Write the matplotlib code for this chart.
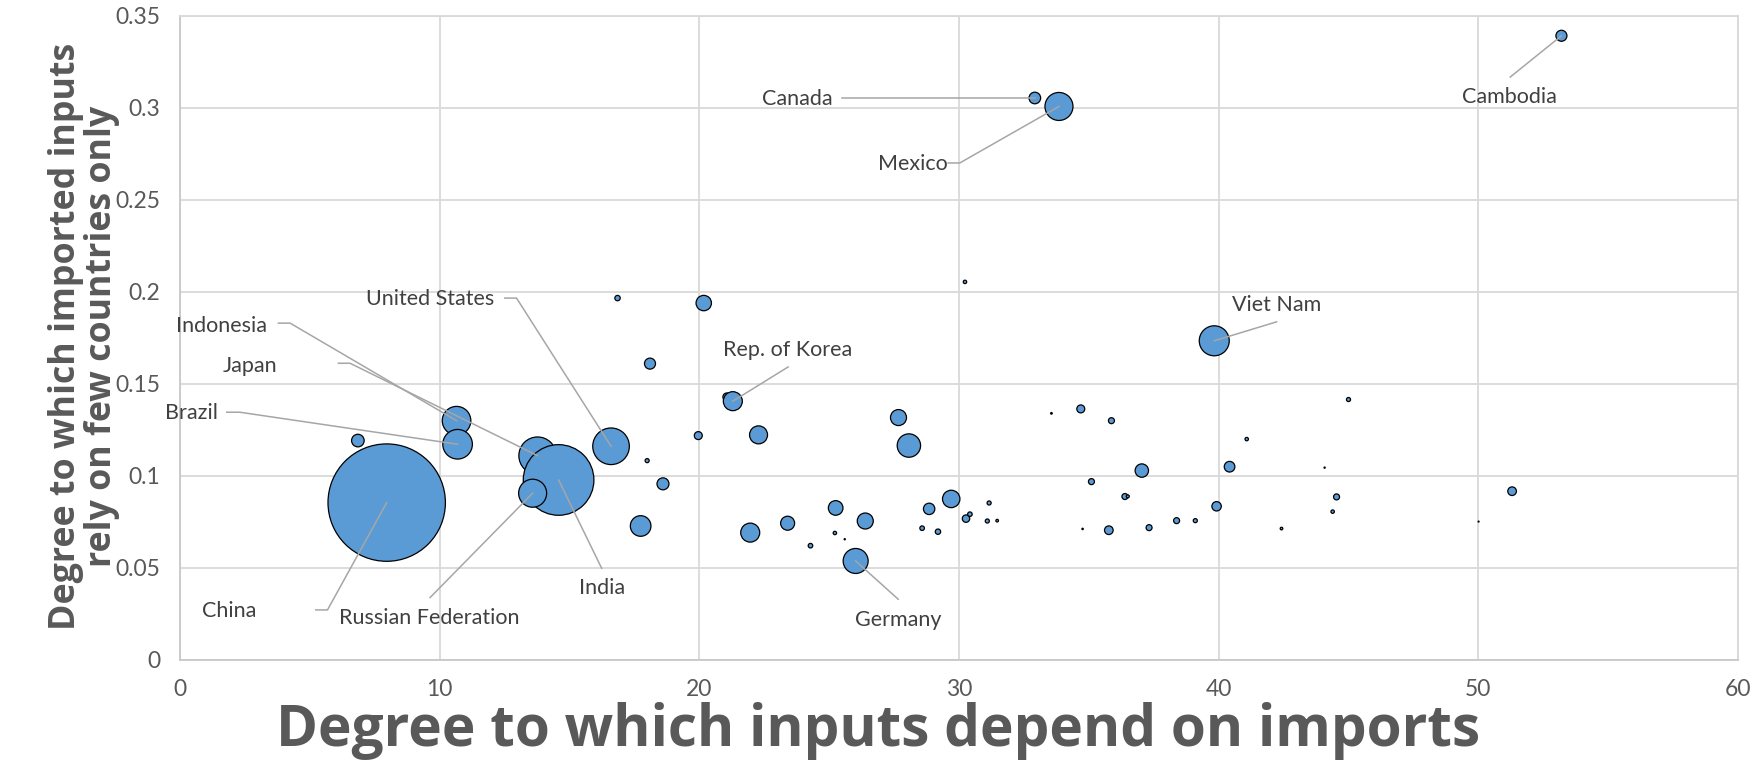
import matplotlib
matplotlib.use("Agg")
import matplotlib.pyplot as plt
from matplotlib.ticker import MultipleLocator, FuncFormatter

# degree to which inputs depend on imports (x), concentration of import sources (y),
# bubble value (area, China = 100), label name ('' = unlabelled)
import_dep = [6.85, 7.96, 10.65, 10.69, 13.77, 14.58, 13.58, 16.6, 16.85, 18.1,
              17.99, 17.74, 18.6, 20.17, 30.23, 21.06, 21.29, 19.96, 22.28, 27.67,
              28.07, 33.56, 34.69, 35.1, 21.96, 23.4, 25.25, 25.22, 25.6, 24.28,
              26.39, 26.02, 28.85, 29.7, 28.58, 29.19, 30.27, 30.42, 31.16, 31.09,
              31.47, 35.87, 37.04, 36.39, 36.5, 34.76, 35.77, 37.32, 38.38, 39.1,
              39.83, 41.08, 40.42, 39.92, 42.42, 44.08, 45.0, 44.54, 44.39, 50.01,
              51.3, 32.92, 33.85, 53.2]
concentration = [0.1192, 0.0855, 0.130, 0.1172, 0.111, 0.0978, 0.0906, 0.1161, 0.1966, 0.161,
                 0.1083, 0.0728, 0.0957, 0.1939, 0.2054, 0.1429, 0.1406, 0.1219, 0.1223, 0.1317,
                 0.1165, 0.134, 0.1364, 0.0969, 0.0692, 0.0743, 0.0826, 0.069, 0.0656, 0.0621,
                 0.0755, 0.0538, 0.0821, 0.0875, 0.0716, 0.0697, 0.0768, 0.0792, 0.0853, 0.0755,
                 0.0757, 0.130, 0.1029, 0.0888, 0.0889, 0.0712, 0.0705, 0.0719, 0.0757, 0.0757,
                 0.1734, 0.120, 0.105, 0.0835, 0.0714, 0.1045, 0.1415, 0.0886, 0.0806, 0.0752,
                 0.0917, 0.3053, 0.3007, 0.3391]
bubble = [1.15, 100, 5.93, 6.36, 10.15, 36.2, 5.69, 9.72, 0.21, 0.88,
          0.12, 3.08, 1.04, 1.72, 0.084, 0.46, 2.62, 0.46, 2.35, 1.86,
          3.97, 0.019, 0.46, 0.26, 2.62, 1.42, 1.55, 0.084, 0.01, 0.15,
          1.86, 4.53, 0.94, 2.2, 0.15, 0.21, 0.40, 0.15, 0.12, 0.12,
          0.05, 0.26, 1.30, 0.26, 0.065, 0.014, 0.54, 0.26, 0.26, 0.12,
          6.53, 0.084, 0.82, 0.64, 0.05, 0.01, 0.12, 0.26, 0.084, 0.007,
          0.54, 0.98, 5.69, 0.88]
names = [''] * len(import_dep)
names[1] = 'China'
names[2] = 'Indonesia'
names[3] = 'Brazil'
names[4] = 'Japan'
names[5] = 'India'
names[6] = 'Russian Federation'
names[7] = 'United States'
names[16] = 'Rep. of Korea'
names[31] = 'Germany'
names[50] = 'Viet Nam'
names[61] = 'Canada'
names[62] = 'Mexico'
names[63] = 'Cambodia'

# label placement: text centre, start of leader line, length of the short horizontal elbow
label_pos = {
    'Canada': ((23.76, 0.3046), (25.49, 0.3053), 0),
    'Mexico': ((28.22, 0.2694), (29.58, 0.270), 0.45),
    'Cambodia': ((51.2, 0.3058), (51.23, 0.3167), 0),
    'Viet Nam': ((42.23, 0.1929), (42.23, 0.1837), 0),
    'Rep. of Korea': ((23.4, 0.1685), (23.42, 0.1592), 0),
    'United States': ((9.65, 0.196), (12.51, 0.1966), 0.45),
    'Indonesia': ((1.6, 0.1817), (3.79, 0.183), 0.45),
    'Japan': ((2.70, 0.1598), (6.10, 0.1612), 0.45),
    'Brazil': ((0.45, 0.134), (1.80, 0.1346), 0.5),
    'China': ((1.91, 0.0264), (5.23, 0.0272), 0.45),
    'Russian Federation': ((9.61, 0.0227), (9.63, 0.0339), 0),
    'India': ((16.24, 0.0393), (16.24, 0.0498), 0),
    'Germany': ((27.66, 0.0217), (27.66, 0.033), 0),
}

plt.rcParams['font.family'] = ['Lato', 'DejaVu Sans']

fig = plt.figure(figsize=(17.56, 7.61), dpi=100)
ax = fig.add_axes([180 / 1756, 1 - 660 / 761, (1738 - 180) / 1756, (660 - 15.7) / 761])

china_d = 2 * 58.7 * 0.72  # diameter in points of the largest bubble
sizes = [b / 100 * china_d ** 2 for b in bubble]
ax.scatter(import_dep, concentration, s=sizes, facecolor='#5b9bd5',
           edgecolor='black', linewidth=0.9, zorder=3)

for i, nm in enumerate(names):
    if not nm:
        continue
    (tx, ty), (sx, sy), el = label_pos[nm]
    px, py = import_dep[i], concentration[i]
    if el:
        xs, ys = [sx, sx + el, px], [sy, sy, py]
    else:
        xs, ys = [sx, px], [sy, py]
    ax.plot(xs, ys, color='#a6a6a6', lw=1.1, zorder=4, clip_on=False)
    ax.text(tx, ty, nm, ha='center', va='center', fontsize=15.5,
            color='#404040', zorder=5, clip_on=False)

ax.set_xlim(0, 60)
ax.set_ylim(0, 0.35)
ax.xaxis.set_major_locator(MultipleLocator(10))
ax.yaxis.set_major_locator(MultipleLocator(0.05))
ax.yaxis.set_major_formatter(FuncFormatter(lambda v, p: '0' if abs(v) < 1e-9 else ('%.2f' % v).rstrip('0')))
ax.grid(True, color='#d9d9d9', lw=1.3, zorder=0)
ax.set_axisbelow(True)
for sp in ax.spines.values():
    sp.set_color('#d9d9d9')
    sp.set_linewidth(1.3)
ax.spines['left'].set_color('#c8c8c8')
ax.spines['bottom'].set_color('#c8c8c8')
ax.tick_params(length=0, labelsize=16.5, labelcolor='#595959', pad=14)

fig.canvas.draw()
r = fig.canvas.get_renderer()

title_font = ['Open Sans', 'DejaVu Sans']
xt = fig.text(878 / 1756, 1 - 731 / 761, 'Degree to which inputs depend on imports',
              ha='center', va='center', fontsize=30, fontweight='bold', color='#595959',
              family=title_font)
yt = fig.text(84 / 1756, 1 - 336 / 761,
              'Degree to which imported inputs\nrely on few countries only',
              ha='center', va='center', rotation=90, fontsize=30, fontweight='bold',
              color='#595959', linespacing=1.0, family=title_font)
# scale the titles to the widths they take in the original
w = xt.get_window_extent(r).width
xt.set_fontsize(30 * 1205 / w)
h = yt.get_window_extent(r).height
yt.set_fontsize(30 * 587 / h)

fig.savefig('out.png', dpi=100)
